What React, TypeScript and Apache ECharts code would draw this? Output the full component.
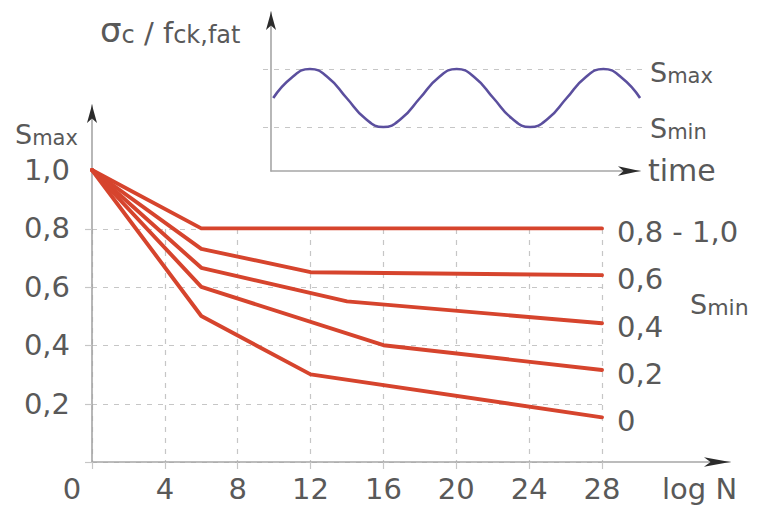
import React, { useEffect, useRef } from "react";
import * as echarts from "echarts";

// ---- data ----
const curveLabels = ["0,8 - 1,0", "0,6", "0,4", "0,2", "0"];
const logN_s08 = [0, 6, 28];
const smax_s08 = [1.0, 0.8, 0.8];
const logN_s06 = [0, 6, 12, 28];
const smax_s06 = [1.0, 0.73, 0.65, 0.64];
const logN_s04 = [0, 6, 14, 28];
const smax_s04 = [1.0, 0.665, 0.55, 0.475];
const logN_s02 = [0, 6, 16, 28];
const smax_s02 = [1.0, 0.6, 0.4, 0.315];
const logN_s00 = [0, 6, 12, 28];
const smax_s00 = [1.0, 0.5, 0.3, 0.153];

// inset: schematic load cycle (level 0 = Smin, level 1 = Smax), read at 1/8-period steps
const waveTime = [
  0, 0.125, 0.25, 0.375, 0.5, 0.625, 0.75, 0.875, 1, 1.125, 1.25, 1.375, 1.5, 1.625, 1.75, 1.875, 2,
  2.125, 2.25, 2.375, 2.5,
];
const waveLevel = [
  0.5, 0.85, 1, 0.85, 0.5, 0.15, 0, 0.15, 0.5, 0.85, 1, 0.85, 0.5, 0.15, 0, 0.15, 0.5, 0.85, 1, 0.85,
  0.5,
];

const FONT = "'DejaVu Sans', 'Liberation Sans', Arial, sans-serif";
const TXT = "#595959";
const AXIS = "#a6a6a6";
const GRIDC = "#c6c6c6";
const RED = "#d6442d";
const WAVE = "#5b4f9e";
const NUM = 29;

const curves = [
  [logN_s08, smax_s08],
  [logN_s06, smax_s06],
  [logN_s04, smax_s04],
  [logN_s02, smax_s02],
  [logN_s00, smax_s00],
];

const fmtComma = (v: number) => (v === 0 ? "" : v.toFixed(1).replace(".", ","));

const subRich = (big: number, small: number) => ({
  a: { fontSize: big, fontFamily: FONT, fill: TXT, verticalAlign: "bottom", lineHeight: big },
  b: { fontSize: small, fontFamily: FONT, fill: TXT, verticalAlign: "bottom", lineHeight: Math.round(big * 0.86) },
});

function lineAxis(gridIndex: number, withArrow: boolean, size: number[]) {
  return {
    type: "value",
    gridIndex,
    min: 0,
    max: 1,
    axisLine: {
      show: true,
      symbol: withArrow ? ["none", "arrow"] : ["none", "none"],
      symbolSize: size,
      lineStyle: withArrow ? { color: "#2b2b2b", width: 0 } : { color: AXIS, width: 1.6 },
    },
    axisTick: { show: false },
    axisLabel: { show: false },
    splitLine: { show: false },
  };
}

export default function App() {
  const ref = useRef<HTMLDivElement>(null);
  useEffect(() => {
    if (!ref.current) return;
    const chart = echarts.init(ref.current, undefined, { renderer: "svg" });
    const option: any = {
      animation: false,
      textStyle: { fontFamily: FONT },
      grid: [
        { left: 92, right: 162, top: 170, bottom: 44 }, // 0 data
        { left: 92, right: 162, top: 229, bottom: 44 }, // 1 dashed grid
        { left: 92, right: 34, top: 105, bottom: 44 }, // 2 main axis lines
        { left: 92, right: 34, top: 105, bottom: 44 }, // 3 main arrows
        { left: 271, right: 124, top: 12, bottom: 335 }, // 4 inset axis lines
        { left: 271, right: 124, top: 12, bottom: 335 }, // 5 inset arrows
        { left: 263, right: 121, top: 69, bottom: 379 }, // 6 wave
      ],
      xAxis: [
        {
          type: "value",
          gridIndex: 0,
          min: 0,
          max: 28,
          interval: 4,
          axisLine: { show: false },
          axisTick: { show: false },
          splitLine: { show: false },
          axisLabel: {
            margin: 12,
            fontSize: NUM,
            color: TXT,
            fontFamily: FONT,
            formatter: (v: number) => (v === 0 ? "{o|0}" : String(v)),
            rich: { o: { fontSize: NUM, color: TXT, fontFamily: FONT, padding: [0, 40, 0, 0] } },
          },
        },
        {
          type: "value",
          gridIndex: 1,
          min: 0,
          max: 28,
          interval: 4,
          axisLine: { show: false },
          axisTick: { show: true, length: 7, lineStyle: { color: GRIDC, width: 1.2 } },
          axisLabel: { show: false },
          splitLine: { show: true, lineStyle: { color: GRIDC, width: 1.2, type: [5, 6] } },
        },
        lineAxis(2, false, [7, 26]),
        lineAxis(3, true, [7, 26]),
        lineAxis(4, false, [7, 22]),
        lineAxis(5, true, [7, 22]),
        { type: "value", gridIndex: 6, min: -0.07, max: 2.52, show: false },
      ],
      yAxis: [
        {
          type: "value",
          gridIndex: 0,
          min: 0,
          max: 1,
          interval: 0.2,
          axisLine: { show: false },
          axisTick: { show: false },
          splitLine: { show: false },
          axisLabel: { margin: 22, fontSize: NUM, color: TXT, fontFamily: FONT, formatter: fmtComma },
        },
        {
          type: "value",
          gridIndex: 1,
          min: 0,
          max: 0.8,
          interval: 0.2,
          axisLine: { show: false },
          axisTick: { show: true, length: 7, lineStyle: { color: GRIDC, width: 1.2 } },
          axisLabel: { show: false },
          splitLine: { show: true, lineStyle: { color: GRIDC, width: 1.2, type: [5, 6] } },
        },
        lineAxis(2, false, [7.5, 18]),
        lineAxis(3, true, [7.5, 18]),
        lineAxis(4, false, [7.5, 18]),
        lineAxis(5, true, [7.5, 18]),
        {
          type: "value",
          gridIndex: 6,
          min: 0,
          max: 1,
          interval: 1,
          axisLine: { show: false },
          axisTick: { show: false },
          axisLabel: { show: false },
          splitLine: { show: true, lineStyle: { color: GRIDC, width: 1.2, type: [5, 6] } },
        },
      ],
      series: [
        ...curves.map(([xs, ys], i) => ({
          type: "line",
          name: curveLabels[i],
          xAxisIndex: 0,
          yAxisIndex: 0,
          data: xs.map((x, k) => [x, ys[k]]),
          showSymbol: false,
          symbol: "none",
          z: 5 + i,
          lineStyle: { color: RED, width: 3.9, cap: "round", join: "round" },
          endLabel: {
            show: true,
            formatter: "{a}",
            distance: 15,
            offset: [0, 4],
            fontSize: NUM,
            color: TXT,
            fontFamily: FONT,
          },
        })),
        {
          type: "line",
          name: "cycle",
          xAxisIndex: 6,
          yAxisIndex: 6,
          data: waveTime.map((t, k) => [t, waveLevel[k]]),
          smooth: 0.5,
          showSymbol: false,
          symbol: "none",
          clip: false,
          lineStyle: { color: WAVE, width: 2.6 },
        },
      ],
      graphic: [
        {
          type: "text",
          x: 100,
          y: 47,
          style: {
            text: "{s|σ}{b|c}{a| / f}{b|ck,fat}",
            verticalAlign: "bottom",
            rich: {
              s: { fontSize: 34, fontFamily: FONT, fill: TXT, verticalAlign: "bottom", lineHeight: 30 },
              a: { fontSize: 29, fontFamily: FONT, fill: TXT, verticalAlign: "bottom", lineHeight: 30 },
              b: { fontSize: 24, fontFamily: FONT, fill: TXT, verticalAlign: "bottom", lineHeight: 28 },
            },
          },
        },
        { type: "text", x: 15, y: 148, style: { text: "{a|S}{b|max}", verticalAlign: "bottom", rich: subRich(27, 21) } },
        { type: "text", x: 650, y: 86, style: { text: "{a|S}{b|max}", verticalAlign: "bottom", rich: subRich(27, 21) } },
        { type: "text", x: 650, y: 142, style: { text: "{a|S}{b|min}", verticalAlign: "bottom", rich: subRich(27, 21) } },
        { type: "text", x: 690, y: 318, style: { text: "{a|S}{b|min}", verticalAlign: "bottom", rich: subRich(27, 22) } },
        {
          type: "text",
          x: 648,
          y: 170,
          style: { text: "time", fontSize: 30, fontFamily: FONT, fill: TXT, verticalAlign: "middle" },
        },
        {
          type: "text",
          x: 662,
          y: 489,
          style: { text: "log N", fontSize: 29, fontFamily: FONT, fill: TXT, verticalAlign: "middle" },
        },
      ],
    };
    chart.setOption(option);
    return () => chart.dispose();
  }, []);
  return (
    <div
      ref={ref}
      style={{ position: "fixed", left: 0, top: 0, width: 764, height: 506, background: "#ffffff" }}
    />
  );
}
